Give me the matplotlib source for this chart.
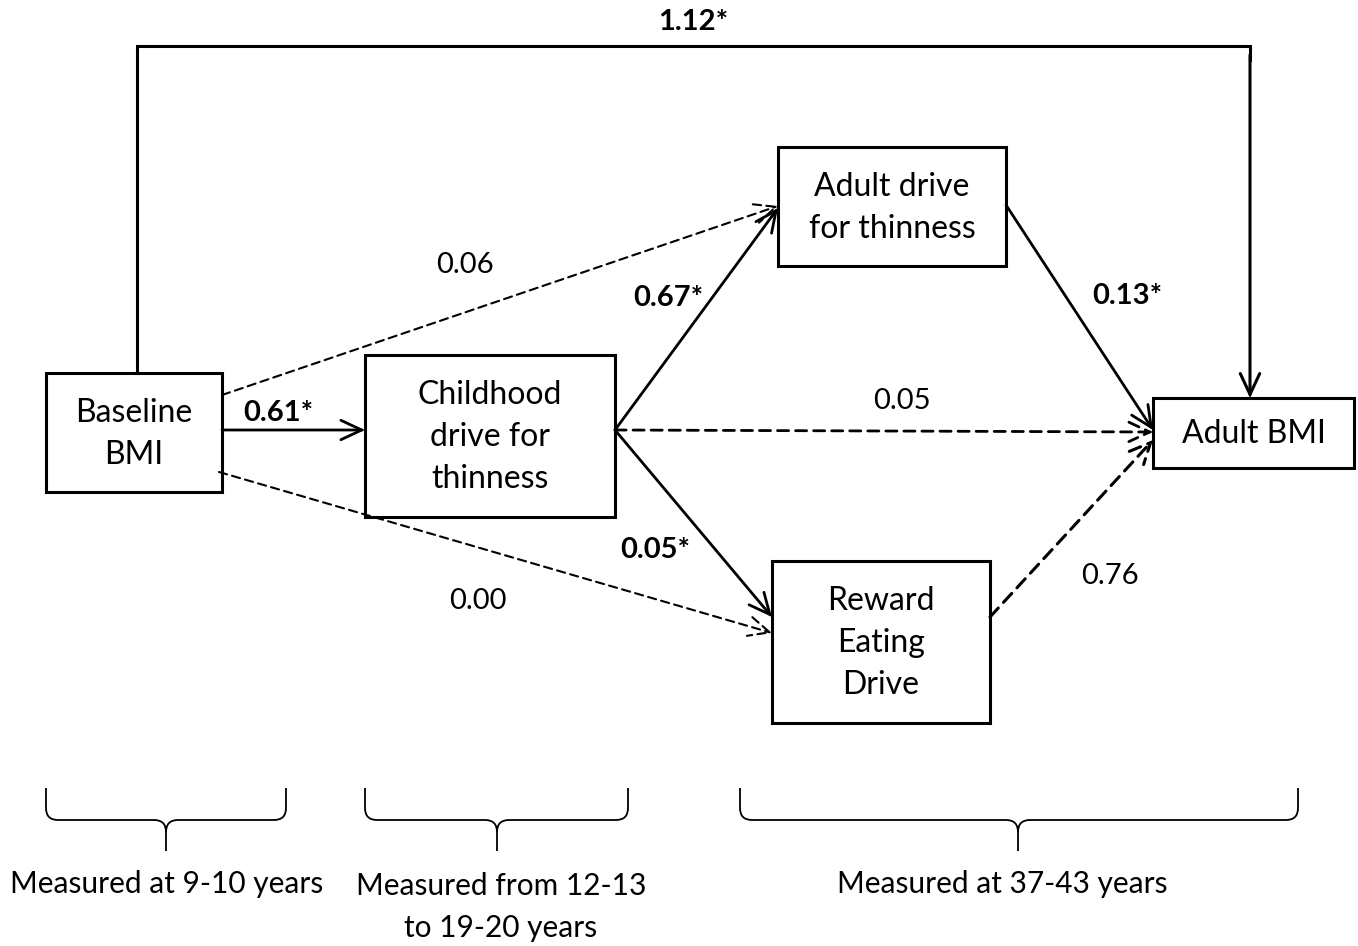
import matplotlib.pyplot as plt
from matplotlib.patches import Rectangle, FancyArrowPatch, PathPatch
from matplotlib.path import Path

plt.rcParams['font.family'] = ['Lato', 'DejaVu Sans']

# path coefficients (label, significant)
coef_base_child = '0.61*'
coef_base_adult = '0.06'
coef_base_reward = '0.00'
coef_child_adult = '0.67*'
coef_child_reward = '0.05*'
coef_child_bmi = '0.05'
coef_adult_bmi = '0.13*'
coef_reward_bmi = '0.76'
coef_base_bmi = '1.12*'

box_names = ['Baseline\nBMI', 'Childhood\ndrive for\nthinness', 'Adult drive\nfor thinness',
             'Reward\nEating\nDrive', 'Adult BMI']
period_labels = ['Measured at 9-10 years', 'Measured from 12-13\nto 19-20 years',
                 'Measured at 37-43 years']

# layout in pixel coords (x0, y0, x1, y1)
boxes = {
    'base': (46, 373, 222, 492),
    'child': (365, 355, 615, 517),
    'adult': (778, 147, 1006, 266),
    'reward': (772, 561, 990, 723),
    'bmi': (1153, 398, 1354, 468),
}

fig = plt.figure(figsize=(13.58, 9.46), dpi=100)
ax = fig.add_axes([0, 0, 1, 1])
ax.set_xlim(0, 1358)
ax.set_ylim(946, 0)
ax.axis('off')

for (key, b), name in zip(boxes.items(), box_names):
    ax.add_patch(Rectangle((b[0], b[1]), b[2] - b[0], b[3] - b[1], fill=False,
                           lw=2.2, ec='black'))
    ax.text((b[0] + b[2]) / 2, (b[1] + b[3]) / 2 + 1, name, ha='center', va='center',
            fontsize=23, linespacing=1.5)


def arrow(p, q, dashed=False, lw=2.0):
    a = FancyArrowPatch(p, q, arrowstyle='->,head_length=15,head_width=7',
                        mutation_scale=1, lw=lw, color='black',
                        linestyle=(0, (4, 2.5)) if dashed else '-',
                        shrinkA=0, shrinkB=0, joinstyle='miter')
    ax.add_patch(a)


def label(x, y, s):
    ax.text(x, y, s, ha='center', va='center', fontsize=21,
            fontweight='bold' if s.endswith('*') else 'normal')


# edges
arrow((222, 430), (365, 430))
label(278, 413, coef_base_child)
arrow((222, 395), (778, 206), dashed=True, lw=1.5)
label(465, 265, coef_base_adult)
arrow((219, 472), (772, 633), dashed=True, lw=1.5)
label(478, 601, coef_base_reward)
arrow((615, 430), (778, 208))
label(668, 298, coef_child_adult)
arrow((615, 430), (772, 617))
label(655, 550, coef_child_reward)
arrow((615, 430), (1153, 432), dashed=True)
label(902, 401, coef_child_bmi)
arrow((1006, 205), (1153, 430))
label(1127, 296, coef_adult_bmi)
arrow((990, 617), (1153, 440), dashed=True, lw=2.2)
label(1110, 576, coef_reward_bmi)

# top path baseline -> adult BMI
ax.plot([137, 137, 1250, 1250], [373, 46, 46, 60], color='black', lw=2.2,
        solid_joinstyle='miter')
arrow((1250, 55), (1250, 398), lw=2.2)
label(693, 22, coef_base_bmi)


def brace(x0, x1, xc, top=788, mid=820, bot=851, r=12):
    verts = [(x0, top), (x0, mid - r), (x0, mid), (x0 + r, mid),
             (xc - r, mid), (xc, mid), (xc, mid + r), (xc, bot),
             (xc, mid + r), (xc, mid), (xc + r, mid),
             (x1 - r, mid), (x1, mid), (x1, mid - r), (x1, top)]
    codes = [Path.MOVETO, Path.LINETO, Path.CURVE3, Path.CURVE3,
             Path.LINETO, Path.CURVE3, Path.CURVE3, Path.LINETO,
             Path.MOVETO, Path.CURVE3, Path.CURVE3,
             Path.LINETO, Path.CURVE3, Path.CURVE3, Path.LINETO]
    ax.add_patch(PathPatch(Path(verts, codes), fill=False, lw=1.3, ec='black'))


brace(46, 286, 166)
brace(365, 628, 497)
brace(740, 1298, 1018)

ax.text(167, 884, period_labels[0], ha='center', va='center', fontsize=21.5)
ax.text(501, 907, period_labels[1], ha='center', va='center', fontsize=21.5, linespacing=1.62)
ax.text(1002, 884, period_labels[2], ha='center', va='center', fontsize=21.5)

fig.savefig('out.png', dpi=100, facecolor='white')
